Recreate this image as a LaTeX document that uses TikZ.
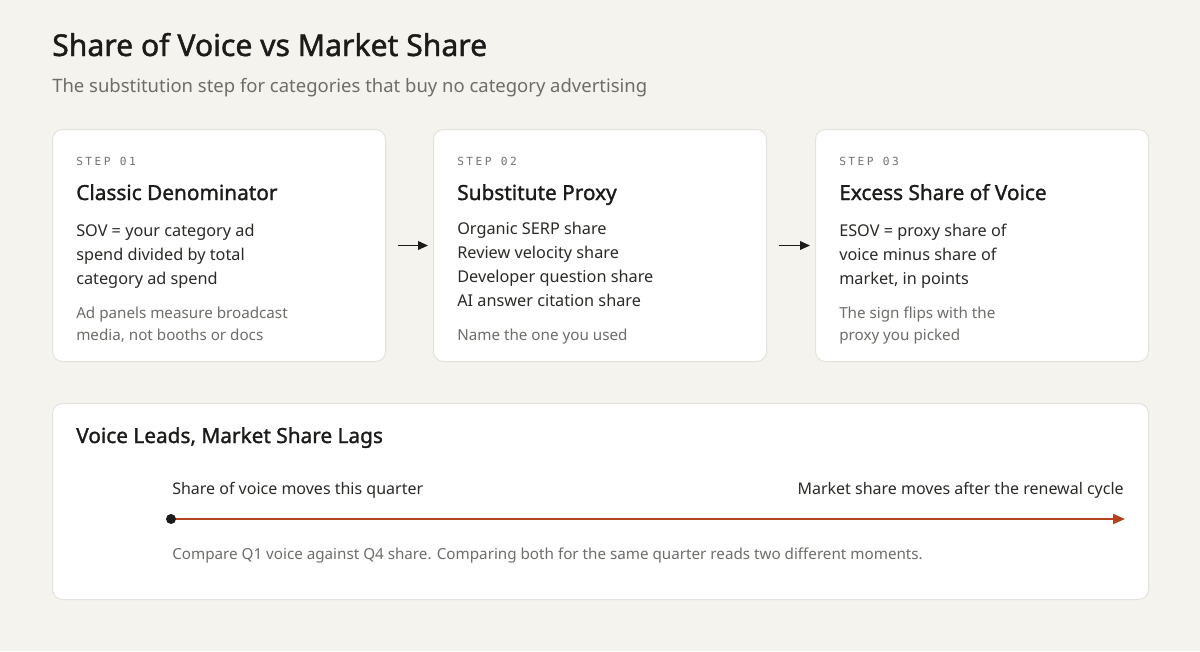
\documentclass[tikz,border=0pt]{standalone}
\usepackage{fontspec}
\setmainfont{Noto Sans}
\newfontfamily\headfont{Noto Sans}[AutoFakeBold=1.4]
\newfontfamily\stepfont[LetterSpace=22]{DejaVu Sans Mono}
\usetikzlibrary{arrows.meta,positioning}

\definecolor{pagebg}{HTML}{F4F3EE}
\definecolor{cardline}{HTML}{E4E2DC}
\definecolor{ink}{HTML}{1C1B19}
\definecolor{bodyink}{HTML}{2B2A27}
\definecolor{muted}{HTML}{6E6D69}
\definecolor{steplbl}{HTML}{74726D}
\definecolor{rust}{HTML}{B3431E}

\begin{document}
\begin{tikzpicture}[x=0.75pt,y=-0.75pt,
    card/.style={draw=cardline,line width=0.75pt,fill=white,rounded corners=7.5pt,
      anchor=north west,minimum width=249.75pt,minimum height=174pt,inner sep=0pt},
    txt/.style={anchor=base west,inner sep=0pt,align=left},
    steptag/.style={txt,text=steplbl,font=\stepfont\fontsize{8.4}{10}\selectfont},
    cardhead/.style={txt,text=ink,font=\headfont\bfseries\fontsize{15.6}{19}\selectfont},
    cardbody/.style={txt,text=bodyink,font=\fontsize{12.2}{18}\selectfont},
    cardnote/.style={txt,text=muted,font=\fontsize{11.4}{16.5}\selectfont},
    flow/.style={-{Triangle[length=7.5pt,width=6.5pt]},line width=1.1pt,ink,
      shorten <=9pt,shorten >=3.75pt},
    timeline/.style={-{Triangle[length=9pt,width=7.5pt]},line width=1.5pt,rust}]

    \fill[pagebg] (0,0) rectangle (1200,651);
    \useasboundingbox (0,0) rectangle (1200,651);

    % heading
    \node[txt,text=ink,font=\headfont\bfseries\fontsize{22.6}{27}\selectfont] (title) at (52,56)
        {Share of Voice vs Market Share};
    \node[txt,text=muted,font=\fontsize{13.85}{18}\selectfont] (subtitle) at (52,92)
        {The substitution step for categories that buy no category advertising};

    % step cards
    \node[card] (c1) at (52,129) {};
    \node[card] (c2) at (433,129) {};
    \node[card] (c3) at (815,129) {};

    % base of a wrapped text = its last line
    \node[steptag] (t1) at (76,165) {STEP 01};
    \node[cardhead] (h1) at (76,200) {Classic Denominator};
    \node[cardbody] (b1) at (76,284) {SOV = your category ad\\spend divided by total\\category ad spend};
    \node[cardnote] (n1) at (76,340) {Ad panels measure broadcast\\media, not booths or docs};

    \node[steptag] (t2) at (457,165) {STEP 02};
    \node[cardhead] (h2) at (457,200) {Substitute Proxy};
    \node[cardbody] (b2) at (457,306) {Organic SERP share\\Review velocity share\\Developer question share\\AI answer citation share};
    \node[cardnote] (n2) at (457,340) {Name the one you used};

    \node[steptag] (t3) at (839,165) {STEP 03};
    \node[cardhead] (h3) at (839,200) {Excess Share of Voice};
    \node[cardbody] (b3) at (839,284) {ESOV = proxy share of\\voice minus share of\\market, in points};
    \node[cardnote] (n3) at (839,340) {The sign flips with the\\proxy you picked};

    \draw[flow] (c1.east) -- (c2.west);
    \draw[flow] (c2.east) -- (c3.west);

    % lag panel
    \node[card,minimum width=822pt,minimum height=147pt] (lag) at (52,403) {};
    \node[cardhead] (lagtitle) at (76,443) {Voice Leads, Market Share Lags};
    \node[txt,text=bodyink,font=\fontsize{12}{16}\selectfont] (lead) at (172,494)
        {Share of voice moves this quarter};
    \node[txt,anchor=base east,text=bodyink,font=\fontsize{12}{16}\selectfont] (lagl) at (1124,494)
        {Market share moves after the renewal cycle};
    \coordinate (now) at (171,519);
    \coordinate (later) at (1125,519);
    \draw[timeline] (now) -- (later);
    \fill[ink] (now) circle (3.75pt);
    \node[txt,text=muted,font=\fontsize{11.4}{15}\selectfont] (caption) at (172,559)
        {Compare Q1 voice against Q4 share. Comparing both for the same quarter reads two different moments.};
\end{tikzpicture}
\end{document}
